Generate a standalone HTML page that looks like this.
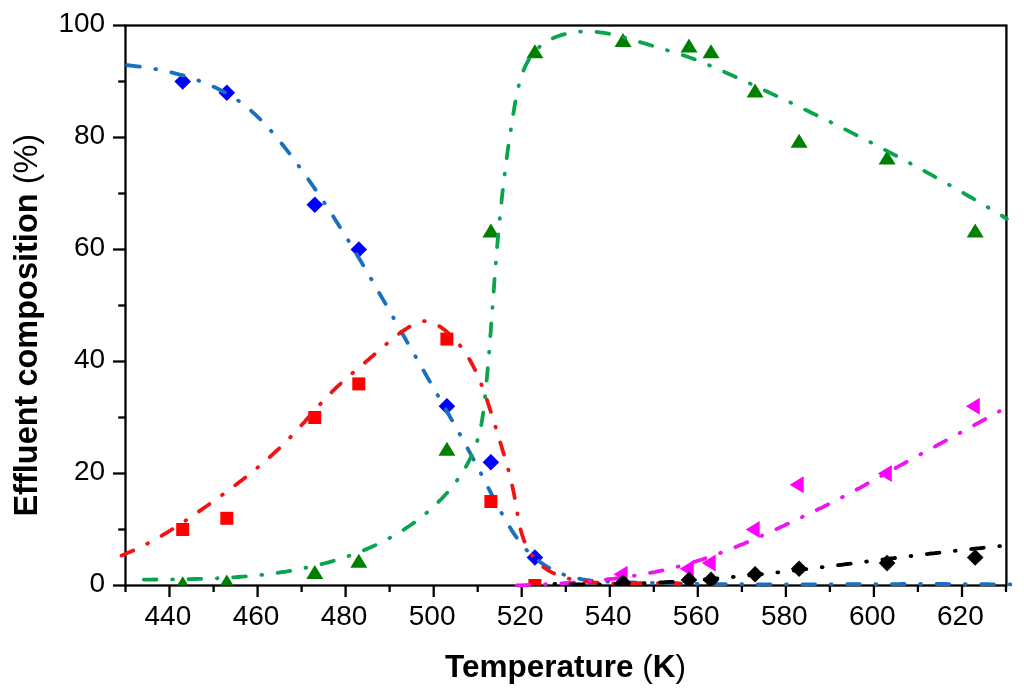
<!DOCTYPE html>
<html><head><meta charset="utf-8"><title>Effluent composition vs temperature</title>
<style>
html,body{margin:0;padding:0;background:#fff;}
svg{display:block;filter:blur(0.45px);}
text{font-family:"Liberation Sans",Arial,sans-serif;fill:#000;}
.tl{font-size:28px;}
.ttl{font-size:31.5px;font-weight:bold;}
.tty{font-size:32.5px;font-weight:bold;}
</style></head><body>
<svg width="1024" height="694" viewBox="0 0 1024 694">
<defs><clipPath id="pc"><rect x="125.5" y="25.5" width="880.5" height="560"/></clipPath></defs>
<rect x="0" y="0" width="1024" height="694" fill="#fff"/>
<g><rect x="125.5" y="25.5" width="880.9" height="560" fill="none" stroke="#000" stroke-width="2.3"/><line x1="125.5" y1="585.5" x2="125.5" y2="592.0" stroke="#000" stroke-width="2.3"/><line x1="169.5" y1="585.5" x2="169.5" y2="597.0" stroke="#000" stroke-width="2.3"/><line x1="213.6" y1="585.5" x2="213.6" y2="592.0" stroke="#000" stroke-width="2.3"/><line x1="257.6" y1="585.5" x2="257.6" y2="597.0" stroke="#000" stroke-width="2.3"/><line x1="301.6" y1="585.5" x2="301.6" y2="592.0" stroke="#000" stroke-width="2.3"/><line x1="345.6" y1="585.5" x2="345.6" y2="597.0" stroke="#000" stroke-width="2.3"/><line x1="389.6" y1="585.5" x2="389.6" y2="592.0" stroke="#000" stroke-width="2.3"/><line x1="433.7" y1="585.5" x2="433.7" y2="597.0" stroke="#000" stroke-width="2.3"/><line x1="477.7" y1="585.5" x2="477.7" y2="592.0" stroke="#000" stroke-width="2.3"/><line x1="521.7" y1="585.5" x2="521.7" y2="597.0" stroke="#000" stroke-width="2.3"/><line x1="565.8" y1="585.5" x2="565.8" y2="592.0" stroke="#000" stroke-width="2.3"/><line x1="609.8" y1="585.5" x2="609.8" y2="597.0" stroke="#000" stroke-width="2.3"/><line x1="653.8" y1="585.5" x2="653.8" y2="592.0" stroke="#000" stroke-width="2.3"/><line x1="697.8" y1="585.5" x2="697.8" y2="597.0" stroke="#000" stroke-width="2.3"/><line x1="741.9" y1="585.5" x2="741.9" y2="592.0" stroke="#000" stroke-width="2.3"/><line x1="785.9" y1="585.5" x2="785.9" y2="597.0" stroke="#000" stroke-width="2.3"/><line x1="829.9" y1="585.5" x2="829.9" y2="592.0" stroke="#000" stroke-width="2.3"/><line x1="873.9" y1="585.5" x2="873.9" y2="597.0" stroke="#000" stroke-width="2.3"/><line x1="917.9" y1="585.5" x2="917.9" y2="592.0" stroke="#000" stroke-width="2.3"/><line x1="962.0" y1="585.5" x2="962.0" y2="597.0" stroke="#000" stroke-width="2.3"/><line x1="1006.0" y1="585.5" x2="1006.0" y2="592.0" stroke="#000" stroke-width="2.3"/><line x1="125.5" y1="585.5" x2="113.0" y2="585.5" stroke="#000" stroke-width="2.3"/><line x1="125.5" y1="529.5" x2="118.2" y2="529.5" stroke="#000" stroke-width="2.3"/><line x1="125.5" y1="473.5" x2="113.0" y2="473.5" stroke="#000" stroke-width="2.3"/><line x1="125.5" y1="417.5" x2="118.2" y2="417.5" stroke="#000" stroke-width="2.3"/><line x1="125.5" y1="361.5" x2="113.0" y2="361.5" stroke="#000" stroke-width="2.3"/><line x1="125.5" y1="305.5" x2="118.2" y2="305.5" stroke="#000" stroke-width="2.3"/><line x1="125.5" y1="249.5" x2="113.0" y2="249.5" stroke="#000" stroke-width="2.3"/><line x1="125.5" y1="193.5" x2="118.2" y2="193.5" stroke="#000" stroke-width="2.3"/><line x1="125.5" y1="137.5" x2="113.0" y2="137.5" stroke="#000" stroke-width="2.3"/><line x1="125.5" y1="81.5" x2="118.2" y2="81.5" stroke="#000" stroke-width="2.3"/><line x1="125.5" y1="25.5" x2="113.0" y2="25.5" stroke="#000" stroke-width="2.3"/></g>
<text class="tl" x="167.9" y="624.6" text-anchor="middle">440</text><text class="tl" x="256.0" y="624.6" text-anchor="middle">460</text><text class="tl" x="344.0" y="624.6" text-anchor="middle">480</text><text class="tl" x="432.1" y="624.6" text-anchor="middle">500</text><text class="tl" x="520.1" y="624.6" text-anchor="middle">520</text><text class="tl" x="608.2" y="624.6" text-anchor="middle">540</text><text class="tl" x="696.2" y="624.6" text-anchor="middle">560</text><text class="tl" x="784.3" y="624.6" text-anchor="middle">580</text><text class="tl" x="872.3" y="624.6" text-anchor="middle">600</text><text class="tl" x="960.4" y="624.6" text-anchor="middle">620</text><text class="tl" x="105.2" y="591.5" text-anchor="end">0</text><text class="tl" x="105.2" y="479.5" text-anchor="end">20</text><text class="tl" x="105.2" y="367.5" text-anchor="end">40</text><text class="tl" x="105.2" y="255.5" text-anchor="end">60</text><text class="tl" x="105.2" y="143.5" text-anchor="end">80</text><text class="tl" x="105.2" y="31.5" text-anchor="end">100</text><text class="ttl" x="565.5" y="676.6" text-anchor="middle">Temperature <tspan font-weight="normal">(</tspan>K<tspan font-weight="normal">)</tspan></text><text class="tty" transform="translate(37,325.2) rotate(-90)" text-anchor="middle">Effluent composition <tspan font-weight="normal">(%)</tspan></text>
<g clip-path="url(#pc)"><path d="M182.7,73.2L191.0,81.5L182.7,89.8L174.4,81.5Z" fill="#0000ff"/><path d="M226.8,84.4L235.1,92.7L226.8,101.0L218.5,92.7Z" fill="#0000ff"/><path d="M314.8,196.4L323.1,204.7L314.8,213.0L306.5,204.7Z" fill="#0000ff"/><path d="M358.8,241.2L367.1,249.5L358.8,257.8L350.5,249.5Z" fill="#0000ff"/><path d="M446.9,398.0L455.2,406.3L446.9,414.6L438.6,406.3Z" fill="#0000ff"/><path d="M490.9,454.0L499.2,462.3L490.9,470.6L482.6,462.3Z" fill="#0000ff"/><path d="M534.9,549.2L543.2,557.5L534.9,565.8L526.6,557.5Z" fill="#0000ff"/></g>
<path d="M122.2,64.8 L125.9,65.1 L129.6,65.5 L133.4,65.9 L137.1,66.3 L140.9,66.8 L144.6,67.4 L148.4,67.9 L152.2,68.6 L156.0,69.2 L159.8,70.0 L163.6,70.7 L167.4,71.5 L171.2,72.4 L175.0,73.3 L178.8,74.3 L182.6,75.4 L186.3,76.4 L190.0,77.6 L193.8,78.8 L197.4,80.1 L201.1,81.5 L204.7,82.9 L208.3,84.3 L211.8,85.9 L215.4,87.5 L218.8,89.2 L222.2,91.0 L225.6,92.8 L228.9,94.7 L232.2,96.7 L235.4,98.8 L238.6,100.9 L241.7,103.2 L244.7,105.5 L247.7,107.8 L250.6,110.3 L253.4,112.8 L256.2,115.4 L259.0,118.1 L261.7,120.8 L264.4,123.5 L267.0,126.3 L269.6,129.2 L272.1,132.1 L274.7,135.0 L277.1,138.0 L279.6,141.0 L282.0,144.0 L284.4,147.0 L286.8,150.1 L289.2,153.1 L291.5,156.2 L293.8,159.3 L296.2,162.4 L298.4,165.5 L300.7,168.7 L303.0,171.8 L305.2,174.9 L307.5,178.1 L309.7,181.3 L311.9,184.4 L314.1,187.6 L316.3,190.8 L318.4,194.0 L320.6,197.2 L322.7,200.4 L324.9,203.6 L327.0,206.8 L329.1,210.0 L331.2,213.3 L333.3,216.5 L335.3,219.7 L337.4,223.0 L339.4,226.3 L341.5,229.5 L343.5,232.8 L345.6,236.1 L347.6,239.3 L349.6,242.6 L351.6,245.9 L353.6,249.2 L355.6,252.5 L357.5,255.8 L359.5,259.1 L361.5,262.4 L363.4,265.7 L365.4,269.1 L367.3,272.4 L369.3,275.7 L371.2,279.0 L373.1,282.4 L375.1,285.7 L377.0,289.0 L378.9,292.4 L380.8,295.7 L382.8,299.1 L384.7,302.4 L386.6,305.7 L388.5,309.1 L390.4,312.4 L392.3,315.8 L394.2,319.1 L396.1,322.5 L398.0,325.8 L399.9,329.2 L401.8,332.5 L403.7,335.9 L405.6,339.2 L407.5,342.6 L409.4,346.0 L411.3,349.3 L413.2,352.6 L415.2,356.0 L417.1,359.3 L419.0,362.7 L420.9,366.0 L422.8,369.4 L424.8,372.7 L426.7,376.1 L428.6,379.4 L430.5,382.7 L432.5,386.1 L434.4,389.4 L436.3,392.8 L438.2,396.1 L440.1,399.5 L442.1,402.8 L444.0,406.1 L445.9,409.5 L447.8,412.8 L449.7,416.2 L451.6,419.6 L453.5,422.9 L455.4,426.3 L457.3,429.6 L459.1,433.0 L461.0,436.4 L462.9,439.8 L464.7,443.1 L466.6,446.5 L468.4,449.9 L470.3,453.3 L472.1,456.7 L473.9,460.1 L475.7,463.5 L477.5,466.9 L479.3,470.3 L481.1,473.8 L482.9,477.2 L484.6,480.6 L486.4,484.1 L488.1,487.5 L489.9,490.9 L491.6,494.4 L493.4,497.8 L495.2,501.2 L497.0,504.6 L498.8,508.0 L500.7,511.4 L502.5,514.8 L504.4,518.2 L506.4,521.5 L508.4,524.8 L510.4,528.1 L512.4,531.4 L514.6,534.6 L516.8,537.8 L519.0,540.9 L521.4,543.9 L523.8,546.9 L526.4,549.8 L529.0,552.5 L531.8,555.2 L534.6,557.7 L537.6,560.1 L540.6,562.4 L543.8,564.6 L547.0,566.6 L550.3,568.5 L553.6,570.3 L557.0,571.9 L560.5,573.4 L564.1,574.7 L567.7,575.9 L571.3,576.9 L575.0,577.8 L578.7,578.6 L582.4,579.3 L586.2,579.9 L590.0,580.4 L593.9,580.8 L597.7,581.1 L601.6,581.4 L605.5,581.6 L609.4,581.8 L613.3,581.9 L617.2,582.1 L621.2,582.2 L625.1,582.3 L629.0,582.4 L632.9,582.5 L636.8,582.7 L640.7,582.8 L644.6,582.9 L648.5,582.9 L652.4,583.0 L656.3,583.1 L660.2,583.2 L664.0,583.3 L667.9,583.4 L671.8,583.4 L675.7,583.5 L679.6,583.6 L683.4,583.6 L687.3,583.7 L691.2,583.7 L695.1,583.8 L698.9,583.9 L702.8,583.9 L706.7,583.9 L710.5,584.0 L714.4,584.0 L718.2,584.1 L722.1,584.1 L726.0,584.1 L729.8,584.1 L733.7,584.2 L737.5,584.2 L741.4,584.2 L745.2,584.2 L749.1,584.3 L752.9,584.3 L756.8,584.3 L760.6,584.3 L764.5,584.3 L768.3,584.3 L772.2,584.3 L776.0,584.3 L779.9,584.3 L783.7,584.3 L787.5,584.3 L791.4,584.3 L795.2,584.3 L799.1,584.3 L802.9,584.3 L806.7,584.3 L810.6,584.3 L814.4,584.3 L818.3,584.3 L822.1,584.3 L825.9,584.3 L829.8,584.3 L833.6,584.2 L837.5,584.2 L841.3,584.2 L845.1,584.2 L849.0,584.2 L852.8,584.2 L856.7,584.2 L860.5,584.2 L864.3,584.1 L868.2,584.1 L872.0,584.1 L875.9,584.1 L879.7,584.1 L883.5,584.1 L887.4,584.1 L891.2,584.1 L895.1,584.1 L898.9,584.1 L902.8,584.0 L906.6,584.0 L910.5,584.0 L914.3,584.0 L918.2,584.0 L922.0,584.0 L925.9,584.0 L929.7,584.0 L933.6,584.0 L937.5,584.0 L941.3,584.0 L945.2,584.0 L949.0,584.1 L952.9,584.1 L956.8,584.1 L960.6,584.1 L964.5,584.1 L968.4,584.1 L972.2,584.1 L976.1,584.2 L980.0,584.2 L983.9,584.2 L987.7,584.2 L991.6,584.3 L995.5,584.3 L999.4,584.3 L1003.3,584.4 L1007.2,584.4 L1011.1,584.5" fill="none" stroke="#1a6fc0" stroke-width="3.8" stroke-dasharray="12.7 15.6 0.8 15.6" stroke-dashoffset="-5.06" stroke-linecap="round"/>
<g clip-path="url(#pc)"><rect x="176.2" y="523.0" width="13.0" height="13.0" fill="#ff0000"/><rect x="220.3" y="511.8" width="13.0" height="13.0" fill="#ff0000"/><rect x="308.3" y="411.0" width="13.0" height="13.0" fill="#ff0000"/><rect x="352.3" y="377.4" width="13.0" height="13.0" fill="#ff0000"/><rect x="440.4" y="332.6" width="13.0" height="13.0" fill="#ff0000"/><rect x="484.4" y="495.0" width="13.0" height="13.0" fill="#ff0000"/><rect x="528.4" y="579.0" width="13.0" height="13.0" fill="#ff0000"/></g>
<path d="M119.7,556.1 L122.2,555.2 L124.7,554.2 L127.3,553.1 L129.8,552.1 L132.2,551.0 L134.7,549.9 L137.2,548.7 L139.6,547.6 L142.0,546.4 L144.4,545.2 L146.8,543.9 L149.2,542.7 L151.6,541.4 L154.0,540.1 L156.3,538.8 L158.7,537.4 L161.0,536.1 L163.4,534.7 L165.7,533.3 L168.0,531.9 L170.3,530.5 L172.6,529.1 L174.9,527.6 L177.2,526.1 L179.4,524.7 L181.7,523.2 L184.0,521.7 L186.2,520.2 L188.5,518.7 L190.7,517.1 L193.0,515.6 L195.2,514.0 L197.5,512.5 L199.7,510.9 L201.9,509.4 L204.1,507.8 L206.4,506.3 L208.6,504.7 L210.8,503.1 L213.0,501.5 L215.3,500.0 L217.5,498.4 L219.7,496.8 L221.9,495.2 L224.1,493.6 L226.3,492.0 L228.5,490.3 L230.7,488.7 L232.9,487.1 L235.0,485.4 L237.2,483.8 L239.4,482.1 L241.5,480.5 L243.7,478.8 L245.8,477.1 L247.9,475.4 L250.0,473.7 L252.2,472.0 L254.3,470.3 L256.4,468.6 L258.4,466.8 L260.5,465.1 L262.6,463.3 L264.6,461.6 L266.7,459.8 L268.7,458.0 L270.7,456.2 L272.7,454.4 L274.7,452.5 L276.7,450.7 L278.7,448.8 L280.6,446.9 L282.6,445.1 L284.5,443.1 L286.4,441.2 L288.3,439.3 L290.2,437.4 L292.1,435.4 L293.9,433.4 L295.8,431.4 L297.6,429.4 L299.4,427.4 L301.3,425.4 L303.1,423.4 L304.9,421.4 L306.7,419.3 L308.5,417.3 L310.3,415.3 L312.1,413.2 L313.9,411.2 L315.7,409.2 L317.5,407.1 L319.3,405.1 L321.2,403.1 L323.0,401.1 L324.9,399.1 L326.8,397.2 L328.7,395.2 L330.6,393.3 L332.5,391.3 L334.5,389.4 L336.4,387.5 L338.4,385.7 L340.4,383.8 L342.4,382.0 L344.5,380.2 L346.5,378.4 L348.6,376.6 L350.6,374.8 L352.7,373.0 L354.8,371.2 L356.8,369.5 L358.9,367.7 L361.0,366.0 L363.0,364.2 L365.1,362.5 L367.1,360.7 L369.2,359.0 L371.2,357.2 L373.2,355.5 L375.2,353.7 L377.2,352.0 L379.2,350.2 L381.2,348.5 L383.2,346.7 L385.2,345.0 L387.3,343.3 L389.4,341.5 L391.5,339.8 L393.6,338.1 L395.8,336.3 L398.0,334.6 L400.3,332.9 L402.6,331.2 L405.0,329.6 L407.4,328.0 L409.9,326.5 L412.4,325.0 L414.9,323.8 L417.5,322.7 L420.0,321.8 L422.6,321.3 L425.2,321.1 L427.7,321.3 L430.2,321.8 L432.6,322.6 L435.0,323.7 L437.4,325.0 L439.7,326.4 L441.9,328.0 L444.1,329.6 L446.2,331.3 L448.3,333.1 L450.3,334.9 L452.2,336.7 L454.1,338.6 L455.9,340.6 L457.6,342.6 L459.3,344.6 L461.0,346.7 L462.6,348.8 L464.1,351.0 L465.6,353.2 L467.1,355.4 L468.5,357.7 L469.8,360.0 L471.1,362.3 L472.4,364.7 L473.7,367.1 L474.9,369.5 L476.0,372.0 L477.2,374.5 L478.3,377.0 L479.4,379.5 L480.4,382.0 L481.4,384.6 L482.4,387.1 L483.4,389.7 L484.3,392.3 L485.3,394.9 L486.2,397.5 L487.1,400.2 L487.9,402.8 L488.8,405.4 L489.6,408.1 L490.5,410.7 L491.3,413.4 L492.1,416.0 L492.9,418.7 L493.7,421.3 L494.6,423.9 L495.4,426.6 L496.2,429.2 L497.0,431.8 L497.8,434.4 L498.6,437.0 L499.4,439.6 L500.2,442.2 L501.0,444.7 L501.8,447.3 L502.5,449.9 L503.3,452.5 L504.1,455.0 L504.8,457.6 L505.6,460.2 L506.3,462.7 L507.1,465.3 L507.8,467.9 L508.5,470.5 L509.2,473.1 L509.8,475.6 L510.5,478.2 L511.1,480.8 L511.7,483.5 L512.3,486.1 L512.9,488.7 L513.5,491.3 L514.0,494.0 L514.5,496.7 L515.0,499.3 L515.5,502.0 L515.9,504.7 L516.4,507.4 L516.8,510.2 L517.3,512.9 L517.7,515.6 L518.2,518.3 L518.7,521.0 L519.2,523.7 L519.8,526.4 L520.5,529.1 L521.2,531.7 L521.9,534.3 L522.8,536.9 L523.7,539.5 L524.7,542.0 L525.8,544.5 L527.1,547.0 L528.4,549.4 L529.8,551.7 L531.3,554.0 L532.9,556.2 L534.6,558.4 L536.4,560.4 L538.3,562.4 L540.2,564.3 L542.2,566.0 L544.3,567.7 L546.5,569.2 L548.7,570.6 L551.0,571.9 L553.4,573.1 L555.8,574.3 L558.3,575.3 L560.8,576.3 L563.3,577.1 L565.9,577.9 L568.6,578.6 L571.2,579.3 L573.9,579.8 L576.6,580.4 L579.4,580.8 L582.1,581.2 L584.9,581.6 L587.6,581.9 L590.4,582.2 L593.2,582.4 L596.0,582.6 L598.7,582.8 L601.5,582.9 L604.2,583.0 L607.0,583.1 L609.7,583.2 L612.4,583.3 L615.1,583.3 L617.8,583.3 L620.5,583.3 L623.1,583.4 L625.8,583.4 L628.5,583.3 L631.2,583.3 L633.8,583.3 L636.5,583.3 L639.2,583.2 L641.9,583.2 L644.5,583.2 L647.2,583.2 L649.9,583.1 L652.6,583.1 L655.3,583.1 L658.0,583.1 L660.7,583.1 L663.4,583.1 L666.1,583.2 L668.9,583.2 L671.6,583.3 L674.4,583.4 L677.2,583.5 L680.0,583.6" fill="none" stroke="#f01414" stroke-width="3.8" stroke-dasharray="12.7 15.6 0.8 15.6" stroke-dashoffset="-1.89" stroke-linecap="round"/>
<g clip-path="url(#pc)"><path d="M182.7,576.2L191.2,590.2L174.2,590.2Z" fill="#008000"/><path d="M226.8,574.5L235.3,588.5L218.3,588.5Z" fill="#008000"/><path d="M314.8,565.0L323.3,579.0L306.3,579.0Z" fill="#008000"/><path d="M358.8,553.8L367.3,567.8L350.3,567.8Z" fill="#008000"/><path d="M446.9,441.8L455.4,455.8L438.4,455.8Z" fill="#008000"/><path d="M490.9,223.4L499.4,237.4L482.4,237.4Z" fill="#008000"/><path d="M534.9,44.2L543.4,58.2L526.4,58.2Z" fill="#008000"/><path d="M623.0,33.0L631.5,47.0L614.5,47.0Z" fill="#008000"/><path d="M689.0,38.6L697.5,52.6L680.5,52.6Z" fill="#008000"/><path d="M711.0,44.2L719.5,58.2L702.5,58.2Z" fill="#008000"/><path d="M755.1,83.4L763.6,97.4L746.6,97.4Z" fill="#008000"/><path d="M799.1,133.8L807.6,147.8L790.6,147.8Z" fill="#008000"/><path d="M887.1,150.6L895.6,164.6L878.6,164.6Z" fill="#008000"/><path d="M975.2,223.4L983.7,237.4L966.7,237.4Z" fill="#008000"/></g>
<path d="M142.3,579.6 L146.7,579.6 L151.0,579.6 L155.4,579.5 L159.7,579.5 L164.1,579.5 L168.4,579.4 L172.8,579.4 L177.2,579.4 L181.5,579.3 L185.9,579.2 L190.3,579.1 L194.6,579.0 L199.0,578.9 L203.4,578.8 L207.7,578.6 L212.1,578.5 L216.5,578.3 L220.8,578.1 L225.2,577.9 L229.6,577.6 L233.9,577.3 L238.3,577.0 L242.6,576.7 L247.0,576.3 L251.3,575.9 L255.7,575.5 L260.0,575.1 L264.3,574.6 L268.7,574.0 L273.0,573.5 L277.3,572.9 L281.6,572.2 L285.9,571.6 L290.2,570.9 L294.5,570.1 L298.7,569.3 L303.0,568.4 L307.3,567.5 L311.5,566.6 L315.8,565.6 L320.0,564.6 L324.2,563.5 L328.5,562.3 L332.7,561.1 L336.8,559.9 L341.0,558.6 L345.2,557.2 L349.3,555.8 L353.4,554.3 L357.5,552.8 L361.6,551.2 L365.6,549.5 L369.6,547.8 L373.6,546.0 L377.5,544.2 L381.4,542.2 L385.3,540.3 L389.2,538.2 L393.0,536.1 L396.8,533.9 L400.5,531.7 L404.2,529.4 L407.8,527.0 L411.4,524.5 L415.0,522.0 L418.5,519.4 L421.9,516.7 L425.3,513.9 L428.7,511.1 L431.9,508.2 L435.2,505.2 L438.3,502.1 L441.4,499.0 L444.4,495.8 L447.4,492.5 L450.2,489.2 L453.0,485.8 L455.6,482.3 L458.2,478.7 L460.7,475.1 L463.0,471.5 L465.3,467.8 L467.4,464.0 L469.4,460.2 L471.3,456.3 L473.0,452.3 L474.6,448.4 L476.1,444.3 L477.5,440.2 L478.7,436.1 L479.7,431.9 L480.7,427.7 L481.5,423.5 L482.2,419.2 L482.9,414.9 L483.5,410.5 L484.0,406.2 L484.5,401.9 L485.0,397.5 L485.4,393.1 L485.8,388.8 L486.3,384.4 L486.7,380.0 L487.1,375.6 L487.5,371.3 L487.9,366.9 L488.2,362.5 L488.6,358.1 L489.0,353.8 L489.3,349.4 L489.7,345.0 L490.0,340.6 L490.3,336.3 L490.7,331.9 L491.0,327.5 L491.3,323.2 L491.7,318.8 L492.0,314.4 L492.3,310.1 L492.6,305.7 L492.9,301.3 L493.3,297.0 L493.6,292.6 L493.9,288.3 L494.2,283.9 L494.5,279.6 L494.9,275.2 L495.2,270.9 L495.5,266.5 L495.9,262.2 L496.2,257.9 L496.6,253.6 L496.9,249.3 L497.3,244.9 L497.7,240.6 L498.1,236.3 L498.5,232.0 L498.9,227.7 L499.3,223.5 L499.7,219.2 L500.1,214.9 L500.5,210.6 L501.0,206.3 L501.5,202.0 L501.9,197.7 L502.4,193.4 L502.9,189.1 L503.4,184.8 L503.9,180.5 L504.4,176.2 L505.0,171.9 L505.5,167.6 L506.1,163.2 L506.6,158.9 L507.2,154.6 L507.8,150.2 L508.4,145.8 L509.1,141.5 L509.7,137.1 L510.4,132.7 L511.0,128.3 L511.7,123.9 L512.4,119.4 L513.1,115.0 L513.9,110.5 L514.6,106.0 L515.4,101.6 L516.2,97.1 L517.1,92.7 L518.1,88.3 L519.2,84.0 L520.3,79.7 L521.7,75.5 L523.1,71.5 L524.7,67.6 L526.5,63.8 L528.5,60.2 L530.6,56.7 L533.0,53.4 L535.7,50.4 L538.6,47.5 L541.8,44.9 L545.2,42.6 L548.8,40.4 L552.5,38.5 L556.5,36.8 L560.6,35.3 L564.8,34.1 L569.1,33.1 L573.4,32.3 L577.8,31.8 L582.2,31.5 L586.6,31.4 L591.0,31.5 L595.4,31.8 L599.7,32.3 L604.1,32.9 L608.5,33.7 L612.8,34.6 L617.2,35.6 L621.5,36.7 L625.8,37.9 L630.1,39.1 L634.4,40.4 L638.6,41.7 L642.9,43.0 L647.1,44.2 L651.3,45.5 L655.5,46.8 L659.6,48.0 L663.8,49.2 L667.9,50.5 L672.0,51.7 L676.1,53.0 L680.2,54.3 L684.3,55.6 L688.3,57.0 L692.4,58.5 L696.4,60.0 L700.4,61.6 L704.5,63.2 L708.5,64.9 L712.5,66.6 L716.5,68.3 L720.4,70.1 L724.4,71.9 L728.4,73.7 L732.4,75.5 L736.4,77.3 L740.3,79.1 L744.3,81.0 L748.3,82.8 L752.2,84.6 L756.2,86.5 L760.2,88.3 L764.1,90.1 L768.1,92.0 L772.0,93.9 L776.0,95.7 L779.9,97.6 L783.9,99.5 L787.8,101.3 L791.8,103.2 L795.7,105.1 L799.6,107.0 L803.6,108.9 L807.5,110.8 L811.4,112.7 L815.4,114.6 L819.3,116.5 L823.2,118.5 L827.1,120.4 L831.0,122.3 L834.9,124.3 L838.8,126.2 L842.7,128.2 L846.6,130.1 L850.5,132.1 L854.4,134.1 L858.3,136.1 L862.2,138.0 L866.1,140.0 L870.0,142.0 L873.8,144.0 L877.7,146.0 L881.6,148.1 L885.4,150.1 L889.3,152.1 L893.1,154.2 L897.0,156.2 L900.8,158.3 L904.7,160.3 L908.5,162.4 L912.4,164.5 L916.2,166.5 L920.0,168.6 L923.9,170.7 L927.7,172.8 L931.5,174.9 L935.3,177.1 L939.1,179.2 L942.9,181.3 L946.7,183.5 L950.5,185.6 L954.3,187.8 L958.1,189.9 L961.9,192.1 L965.6,194.3 L969.4,196.5 L973.2,198.7 L976.9,200.9 L980.7,203.1 L984.5,205.3 L988.2,207.5 L991.9,209.8 L995.7,212.0 L999.4,214.3 L1003.1,216.5 L1006.9,218.8" fill="none" stroke="#0aa44e" stroke-width="3.8" stroke-dasharray="12.7 15.6 0.8 15.6" stroke-dashoffset="-1.54" stroke-linecap="round"/>
<g clip-path="url(#pc)"><path d="M613.6,574.3L627.6,565.8L627.6,582.8Z" fill="#ff00ff"/><path d="M679.7,568.7L693.7,560.2L693.7,577.2Z" fill="#ff00ff"/><path d="M701.7,563.1L715.7,554.6L715.7,571.6Z" fill="#ff00ff"/><path d="M745.7,529.5L759.7,521.0L759.7,538.0Z" fill="#ff00ff"/><path d="M789.7,484.7L803.7,476.2L803.7,493.2Z" fill="#ff00ff"/><path d="M877.8,473.5L891.8,465.0L891.8,482.0Z" fill="#ff00ff"/><path d="M965.8,406.3L979.8,397.8L979.8,414.8Z" fill="#ff00ff"/></g>
<path d="M516.0,585.5 L517.8,585.4 L519.6,585.3 L521.4,585.3 L523.1,585.2 L524.9,585.1 L526.7,585.1 L528.5,585.0 L530.3,584.9 L532.0,584.8 L533.8,584.8 L535.6,584.7 L537.4,584.6 L539.2,584.5 L541.0,584.5 L542.7,584.4 L544.5,584.3 L546.3,584.2 L548.1,584.1 L549.9,584.0 L551.7,583.9 L553.5,583.8 L555.3,583.7 L557.0,583.6 L558.8,583.5 L560.6,583.4 L562.4,583.3 L564.2,583.2 L566.0,583.1 L567.8,582.9 L569.6,582.8 L571.3,582.7 L573.1,582.6 L574.9,582.4 L576.7,582.3 L578.5,582.2 L580.3,582.0 L582.1,581.9 L583.9,581.7 L585.7,581.6 L587.4,581.4 L589.2,581.2 L591.0,581.1 L592.8,580.9 L594.6,580.7 L596.4,580.6 L598.2,580.4 L599.9,580.2 L601.7,580.0 L603.5,579.8 L605.3,579.6 L607.1,579.4 L608.8,579.2 L610.6,579.0 L612.4,578.8 L614.2,578.6 L616.0,578.3 L617.7,578.1 L619.5,577.9 L621.3,577.6 L623.1,577.4 L624.8,577.1 L626.6,576.9 L628.4,576.6 L630.1,576.3 L631.9,576.1 L633.7,575.8 L635.4,575.5 L637.2,575.2 L639.0,574.9 L640.7,574.6 L642.5,574.3 L644.2,574.0 L646.0,573.7 L647.8,573.3 L649.5,573.0 L651.3,572.7 L653.0,572.3 L654.8,572.0 L656.5,571.6 L658.3,571.2 L660.0,570.9 L661.8,570.5 L663.5,570.1 L665.2,569.7 L667.0,569.3 L668.7,568.9 L670.4,568.5 L672.2,568.1 L673.9,567.6 L675.6,567.2 L677.4,566.8 L679.1,566.3 L680.8,565.8 L682.5,565.4 L684.2,564.9 L686.0,564.4 L687.7,563.9 L689.4,563.4 L691.1,562.9 L692.8,562.4 L694.5,561.9 L696.2,561.4 L697.9,560.8 L699.6,560.3 L701.3,559.7 L703.0,559.2 L704.7,558.6 L706.4,558.0 L708.1,557.5 L709.8,556.9 L711.4,556.3 L713.1,555.7 L714.8,555.1 L716.5,554.5 L718.2,553.9 L719.8,553.2 L721.5,552.6 L723.2,552.0 L724.9,551.3 L726.5,550.7 L728.2,550.0 L729.8,549.4 L731.5,548.7 L733.2,548.0 L734.8,547.4 L736.5,546.7 L738.1,546.0 L739.8,545.3 L741.5,544.6 L743.1,544.0 L744.8,543.3 L746.4,542.6 L748.1,541.8 L749.7,541.1 L751.3,540.4 L753.0,539.7 L754.6,539.0 L756.3,538.3 L757.9,537.5 L759.6,536.8 L761.2,536.1 L762.8,535.3 L764.5,534.6 L766.1,533.9 L767.7,533.1 L769.4,532.4 L771.0,531.6 L772.6,530.9 L774.3,530.1 L775.9,529.4 L777.5,528.6 L779.1,527.9 L780.8,527.1 L782.4,526.4 L784.0,525.6 L785.6,524.8 L787.3,524.1 L788.9,523.3 L790.5,522.6 L792.1,521.8 L793.7,521.0 L795.4,520.3 L797.0,519.5 L798.6,518.7 L800.2,518.0 L801.8,517.2 L803.5,516.4 L805.1,515.7 L806.7,514.9 L808.3,514.1 L809.9,513.3 L811.5,512.6 L813.1,511.8 L814.7,511.0 L816.3,510.2 L817.9,509.4 L819.5,508.6 L821.2,507.9 L822.8,507.1 L824.4,506.3 L826.0,505.5 L827.6,504.7 L829.1,503.9 L830.7,503.1 L832.3,502.3 L833.9,501.5 L835.5,500.7 L837.1,499.8 L838.7,499.0 L840.3,498.2 L841.9,497.4 L843.5,496.6 L845.0,495.7 L846.6,494.9 L848.2,494.1 L849.8,493.2 L851.3,492.4 L852.9,491.6 L854.5,490.7 L856.1,489.9 L857.6,489.0 L859.2,488.2 L860.8,487.3 L862.3,486.5 L863.9,485.6 L865.5,484.8 L867.0,483.9 L868.6,483.0 L870.1,482.2 L871.7,481.3 L873.3,480.4 L874.8,479.6 L876.4,478.7 L877.9,477.8 L879.5,477.0 L881.1,476.1 L882.6,475.2 L884.2,474.4 L885.7,473.5 L887.3,472.6 L888.9,471.8 L890.4,470.9 L892.0,470.0 L893.5,469.2 L895.1,468.3 L896.7,467.4 L898.2,466.6 L899.8,465.7 L901.4,464.8 L902.9,464.0 L904.5,463.1 L906.0,462.3 L907.6,461.4 L909.2,460.5 L910.7,459.7 L912.3,458.8 L913.9,458.0 L915.4,457.1 L917.0,456.2 L918.6,455.4 L920.2,454.5 L921.7,453.7 L923.3,452.8 L924.9,452.0 L926.4,451.1 L928.0,450.3 L929.6,449.4 L931.1,448.6 L932.7,447.7 L934.3,446.9 L935.9,446.0 L937.4,445.2 L939.0,444.3 L940.6,443.5 L942.1,442.6 L943.7,441.8 L945.3,440.9 L946.9,440.0 L948.4,439.2 L950.0,438.3 L951.6,437.5 L953.2,436.6 L954.7,435.8 L956.3,434.9 L957.9,434.1 L959.4,433.2 L961.0,432.4 L962.6,431.5 L964.2,430.7 L965.7,429.8 L967.3,429.0 L968.9,428.1 L970.4,427.2 L972.0,426.4 L973.6,425.5 L975.1,424.7 L976.7,423.8 L978.3,423.0 L979.9,422.1 L981.4,421.2 L983.0,420.4 L984.6,419.5 L986.1,418.6 L987.7,417.8 L989.3,416.9 L990.8,416.1 L992.4,415.2 L993.9,414.3 L995.5,413.4 L997.1,412.6 L998.6,411.7 L1000.2,410.8 L1001.8,410.0 L1003.3,409.1 L1004.9,408.2 L1006.4,407.3 L1008.0,406.4 L1009.5,405.6 L1011.1,404.7" fill="none" stroke="#f014f0" stroke-width="3.8" stroke-dasharray="12.7 15.6 0.8 15.6" stroke-dashoffset="-0.73" stroke-linecap="round"/>
<g clip-path="url(#pc)"><path d="M623.0,574.4L631.3,582.7L623.0,591.0L614.7,582.7Z" fill="#000000"/><path d="M689.0,571.6L697.3,579.9L689.0,588.2L680.7,579.9Z" fill="#000000"/><path d="M711.0,571.6L719.3,579.9L711.0,588.2L702.7,579.9Z" fill="#000000"/><path d="M755.1,566.0L763.4,574.3L755.1,582.6L746.8,574.3Z" fill="#000000"/><path d="M799.1,560.4L807.4,568.7L799.1,577.0L790.8,568.7Z" fill="#000000"/><path d="M887.1,554.8L895.4,563.1L887.1,571.4L878.8,563.1Z" fill="#000000"/><path d="M975.2,549.2L983.5,557.5L975.2,565.8L966.9,557.5Z" fill="#000000"/></g>
<path d="M540.9,583.3 L542.5,583.4 L544.1,583.5 L545.7,583.5 L547.2,583.6 L548.8,583.7 L550.4,583.7 L552.0,583.8 L553.5,583.8 L555.1,583.9 L556.7,583.9 L558.3,584.0 L559.8,584.0 L561.4,584.0 L563.0,584.1 L564.5,584.1 L566.1,584.2 L567.7,584.2 L569.3,584.2 L570.8,584.2 L572.4,584.3 L574.0,584.3 L575.6,584.3 L577.1,584.3 L578.7,584.4 L580.3,584.4 L581.8,584.4 L583.4,584.4 L585.0,584.4 L586.6,584.4 L588.1,584.4 L589.7,584.4 L591.3,584.4 L592.8,584.4 L594.4,584.4 L596.0,584.4 L597.6,584.4 L599.1,584.4 L600.7,584.4 L602.3,584.3 L603.8,584.3 L605.4,584.3 L607.0,584.3 L608.5,584.3 L610.1,584.2 L611.7,584.2 L613.3,584.2 L614.8,584.2 L616.4,584.1 L618.0,584.1 L619.5,584.1 L621.1,584.0 L622.7,584.0 L624.2,583.9 L625.8,583.9 L627.4,583.8 L628.9,583.8 L630.5,583.8 L632.1,583.7 L633.6,583.6 L635.2,583.6 L636.8,583.5 L638.3,583.5 L639.9,583.4 L641.5,583.4 L643.0,583.3 L644.6,583.2 L646.2,583.2 L647.7,583.1 L649.3,583.0 L650.9,583.0 L652.4,582.9 L654.0,582.8 L655.6,582.7 L657.1,582.6 L658.7,582.6 L660.3,582.5 L661.8,582.4 L663.4,582.3 L665.0,582.2 L666.5,582.1 L668.1,582.0 L669.7,582.0 L671.2,581.9 L672.8,581.8 L674.4,581.7 L675.9,581.6 L677.5,581.5 L679.0,581.4 L680.6,581.3 L682.2,581.2 L683.7,581.1 L685.3,581.0 L686.9,580.8 L688.4,580.7 L690.0,580.6 L691.6,580.5 L693.1,580.4 L694.7,580.3 L696.2,580.2 L697.8,580.0 L699.4,579.9 L700.9,579.8 L702.5,579.7 L704.1,579.6 L705.6,579.4 L707.2,579.3 L708.7,579.2 L710.3,579.0 L711.9,578.9 L713.4,578.8 L715.0,578.6 L716.5,578.5 L718.1,578.4 L719.7,578.2 L721.2,578.1 L722.8,578.0 L724.4,577.8 L725.9,577.7 L727.5,577.5 L729.0,577.4 L730.6,577.2 L732.2,577.1 L733.7,576.9 L735.3,576.8 L736.8,576.7 L738.4,576.5 L740.0,576.3 L741.5,576.2 L743.1,576.0 L744.6,575.9 L746.2,575.7 L747.8,575.6 L749.3,575.4 L750.9,575.3 L752.4,575.1 L754.0,574.9 L755.6,574.8 L757.1,574.6 L758.7,574.4 L760.2,574.3 L761.8,574.1 L763.4,573.9 L764.9,573.8 L766.5,573.6 L768.0,573.4 L769.6,573.3 L771.2,573.1 L772.7,572.9 L774.3,572.8 L775.8,572.6 L777.4,572.4 L778.9,572.2 L780.5,572.1 L782.1,571.9 L783.6,571.7 L785.2,571.5 L786.7,571.4 L788.3,571.2 L789.9,571.0 L791.4,570.8 L793.0,570.6 L794.5,570.5 L796.1,570.3 L797.6,570.1 L799.2,569.9 L800.8,569.7 L802.3,569.5 L803.9,569.3 L805.4,569.2 L807.0,569.0 L808.5,568.8 L810.1,568.6 L811.7,568.4 L813.2,568.2 L814.8,568.0 L816.3,567.8 L817.9,567.7 L819.5,567.5 L821.0,567.3 L822.6,567.1 L824.1,566.9 L825.7,566.7 L827.2,566.5 L828.8,566.3 L830.4,566.1 L831.9,565.9 L833.5,565.7 L835.0,565.5 L836.6,565.4 L838.1,565.2 L839.7,565.0 L841.3,564.8 L842.8,564.6 L844.4,564.4 L845.9,564.2 L847.5,564.0 L849.0,563.8 L850.6,563.6 L852.2,563.4 L853.7,563.2 L855.3,563.0 L856.8,562.8 L858.4,562.6 L859.9,562.4 L861.5,562.2 L863.1,562.0 L864.6,561.8 L866.2,561.6 L867.7,561.4 L869.3,561.2 L870.8,561.0 L872.4,560.8 L874.0,560.6 L875.5,560.5 L877.1,560.3 L878.6,560.1 L880.2,559.9 L881.7,559.7 L883.3,559.5 L884.9,559.3 L886.4,559.1 L888.0,558.9 L889.5,558.7 L891.1,558.5 L892.6,558.3 L894.2,558.1 L895.8,557.9 L897.3,557.7 L898.9,557.5 L900.4,557.3 L902.0,557.1 L903.5,556.9 L905.1,556.7 L906.7,556.6 L908.2,556.4 L909.8,556.2 L911.3,556.0 L912.9,555.8 L914.4,555.6 L916.0,555.4 L917.6,555.2 L919.1,555.0 L920.7,554.8 L922.2,554.6 L923.8,554.5 L925.3,554.3 L926.9,554.1 L928.5,553.9 L930.0,553.7 L931.6,553.5 L933.1,553.3 L934.7,553.2 L936.3,553.0 L937.8,552.8 L939.4,552.6 L940.9,552.4 L942.5,552.2 L944.0,552.1 L945.6,551.9 L947.2,551.7 L948.7,551.5 L950.3,551.3 L951.8,551.2 L953.4,551.0 L955.0,550.8 L956.5,550.6 L958.1,550.5 L959.6,550.3 L961.2,550.1 L962.8,550.0 L964.3,549.8 L965.9,549.6 L967.4,549.4 L969.0,549.3 L970.6,549.1 L972.1,548.9 L973.7,548.8 L975.2,548.6 L976.8,548.4 L978.4,548.3 L979.9,548.1 L981.5,548.0 L983.0,547.8 L984.6,547.6 L986.2,547.5 L987.7,547.3 L989.3,547.2 L990.8,547.0 L992.4,546.9 L994.0,546.7 L995.5,546.6 L997.1,546.4 L998.6,546.3 L1000.2,546.1 L1001.8,546.0 L1003.3,545.8 L1004.9,545.7 L1006.5,545.5 L1008.0,545.4" fill="none" stroke="#000000" stroke-width="3.8" stroke-dasharray="12.7 15.6 0.8 15.6" stroke-dashoffset="14.7" stroke-linecap="round"/>
</svg></body></html>
